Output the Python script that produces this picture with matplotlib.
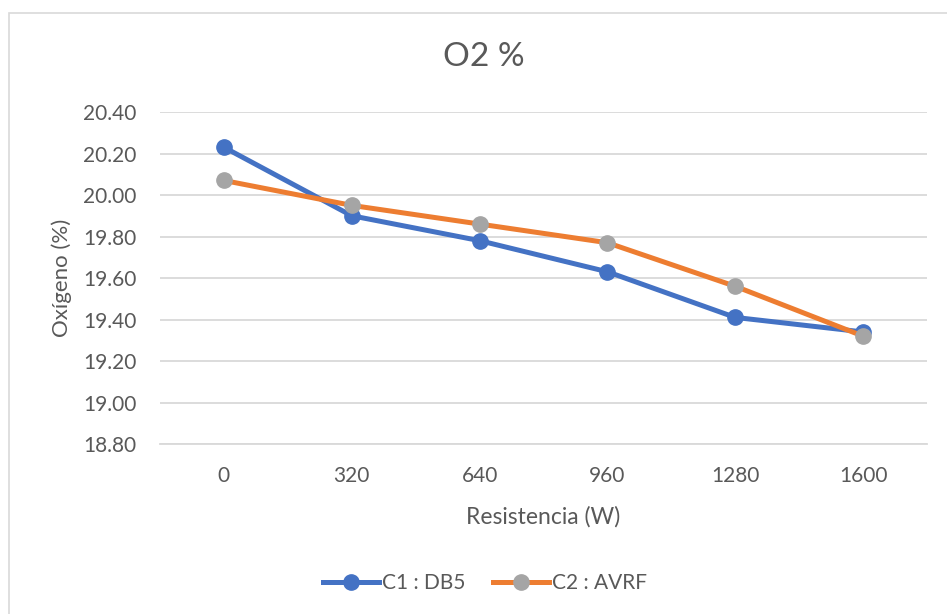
import matplotlib
matplotlib.use('Agg')
import matplotlib.pyplot as plt
from matplotlib.patches import Rectangle
from matplotlib.ticker import FormatStrFormatter

plt.rcParams['font.family'] = ['Lato', 'DejaVu Sans']

resistencia = ['0', '320', '640', '960', '1280', '1600']
c1_db5 = [20.23, 19.90, 19.78, 19.63, 19.41, 19.34]
c2_avrf = [20.07, 19.95, 19.86, 19.77, 19.56, 19.32]

txt = '#595959'
fig = plt.figure(figsize=(9.47, 6.14), dpi=100)
# chart area border (Excel style)
fig.patches.append(Rectangle((9 / 947, -0.1), 1, 1.1 - 13 / 614, transform=fig.transFigure,
                             fill=False, edgecolor='#D9D9D9', linewidth=1.2))
ax = fig.add_axes([160 / 947, 1 - 444 / 614, 767 / 947, 332 / 614])

x = range(len(resistencia))
ax.plot(x, c1_db5, color='#4472C4', linewidth=3.6, marker='o', markersize=11,
        markerfacecolor='#4472C4', markeredgecolor='#4472C4', label='C1 : DB5', zorder=3)
ax.plot(x, c2_avrf, color='#ED7D31', linewidth=3.6, marker='o', markersize=11,
        markerfacecolor='#A5A5A5', markeredgecolor='#A5A5A5', label='C2 : AVRF', zorder=4)

ax.set_xlim(-0.5, 5.5)
ax.set_ylim(18.8, 20.4)
ax.set_yticks([18.8, 19.0, 19.2, 19.4, 19.6, 19.8, 20.0, 20.2, 20.4])
ax.yaxis.set_major_formatter(FormatStrFormatter('%.2f'))
ax.set_xticks(list(x))
ax.set_xticklabels(resistencia)
ax.grid(axis='y', color='#D9D9D9', linewidth=1.3)
ax.set_axisbelow(True)
for s in ['top', 'right', 'left']:
    ax.spines[s].set_visible(False)
ax.spines['bottom'].set_color('#D9D9D9')
ax.spines['bottom'].set_linewidth(1.3)
ax.tick_params(axis='both', length=0, labelsize=15, colors=txt)
ax.tick_params(axis='y', pad=17)
ax.tick_params(axis='x', pad=16)

fig.text(484 / 947, 1 - 57 / 614, 'O2 %', fontsize=24, color=txt, ha='center', va='center')
ax.set_xlabel('Resistencia (W)', fontsize=16.5, color=txt, labelpad=14)
ax.set_ylabel('Oxígeno (%)', fontsize=16, color=txt, labelpad=8)

fig.legend(loc='center', bbox_to_anchor=(485 / 947, 1 - 583 / 614), ncol=2, frameon=False,
           fontsize=15, labelcolor=txt, handlelength=2.7, handletextpad=0.15, columnspacing=1.3)

fig.savefig('out.png', dpi=100)
